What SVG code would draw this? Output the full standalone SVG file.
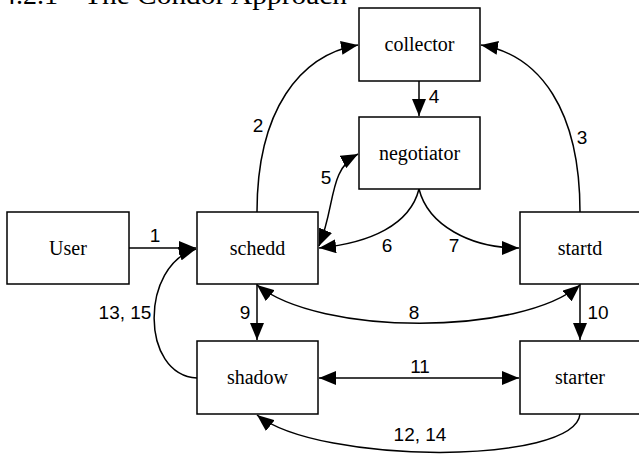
<svg xmlns="http://www.w3.org/2000/svg" width="639" height="454" viewBox="0 0 639 454">
<style>
.box{fill:#fff;stroke:#000;stroke-width:1.5}
.nt{font-family:"Liberation Serif","Times New Roman",serif;font-size:20px;text-anchor:middle;fill:#000}
.lb{font-family:"Liberation Sans",Arial,sans-serif;font-size:19px;text-anchor:middle;fill:#000}
.ed{fill:none;stroke:#000;stroke-width:1.5}
.hd{font-family:"Liberation Serif","Times New Roman",serif;font-size:27px;fill:#000}
</style>
<defs>
<marker id="ah" viewBox="0 0 17 14" refX="17" refY="7" markerWidth="17" markerHeight="14" markerUnits="userSpaceOnUse" orient="auto-start-reverse">
<path d="M0,0 L17,7 L0,14 Z" fill="#000"/>
</marker>
</defs>
<text class="hd" x="2" y="4" textLength="56" lengthAdjust="spacingAndGlyphs">4.2.1</text>
<text class="hd" x="84" y="4" textLength="263" lengthAdjust="spacingAndGlyphs">The Condor Approach</text>
<g id="connectors">
<path class="ed" d="M129,248 L196,248" marker-end="url(#ah)"/>
<path class="ed" d="M257,212 C257,110 300,55 358,45" marker-end="url(#ah)"/>
<path class="ed" d="M580,212 C580,110 540,55 481,45" marker-end="url(#ah)"/>
<path class="ed" d="M419,81 L419,116" marker-end="url(#ah)"/>
<path class="ed" d="M319,246 C336,205 328,170 358,154" marker-start="url(#ah)" marker-end="url(#ah)"/>
<path class="ed" d="M419,189 C410,225 370,243 319,248" marker-end="url(#ah)"/>
<path class="ed" d="M419,189 C428,225 470,248 519,248" marker-end="url(#ah)"/>
<path class="ed" d="M257,285 C320,336 520,336 580,285" marker-start="url(#ah)" marker-end="url(#ah)"/>
<path class="ed" d="M257,284 L257,340" marker-end="url(#ah)"/>
<path class="ed" d="M580,284 L580,340" marker-end="url(#ah)"/>
<path class="ed" d="M319,378 L519,378" marker-start="url(#ah)" marker-end="url(#ah)"/>
<path class="ed" d="M580,414 C575,465 320,465 257,415" marker-end="url(#ah)"/>
<path class="ed" d="M197,378 C140,375 140,265 196,249" marker-end="url(#ah)"/>
<text class="lb" x="155" y="242">1</text>
<text class="lb" x="258" y="132">2</text>
<text class="lb" x="582" y="144">3</text>
<text class="lb" x="434" y="103">4</text>
<text class="lb" x="326" y="184">5</text>
<text class="lb" x="387" y="252">6</text>
<text class="lb" x="454" y="252">7</text>
<text class="lb" x="414" y="319">8</text>
<text class="lb" x="245" y="319">9</text>
<text class="lb" x="598" y="319">10</text>
<text class="lb" x="420" y="373">11</text>
<text class="lb" x="420" y="441">12, 14</text>
<text class="lb" x="125" y="319">13, 15</text>
</g>
<g id="collector"><rect class="box" x="359" y="8" width="121" height="73"/><text class="nt" x="419.5" y="51">collector</text></g>
<g id="negotiator"><rect class="box" x="359" y="117" width="121" height="72"/><text class="nt" x="419.5" y="160">negotiator</text></g>
<g id="user"><rect class="box" x="7" y="212" width="122" height="72"/><text class="nt" x="68" y="255">User</text></g>
<g id="schedd"><rect class="box" x="197" y="212" width="121" height="72"/><text class="nt" x="257.5" y="255">schedd</text></g>
<g id="startd"><rect class="box" x="520" y="212" width="125" height="72"/><text class="nt" x="580" y="255">startd</text></g>
<g id="shadow"><rect class="box" x="197" y="341" width="121" height="73"/><text class="nt" x="257.5" y="384">shadow</text></g>
<g id="starter"><rect class="box" x="520" y="341" width="125" height="73"/><text class="nt" x="580" y="384">starter</text></g>
</svg>
